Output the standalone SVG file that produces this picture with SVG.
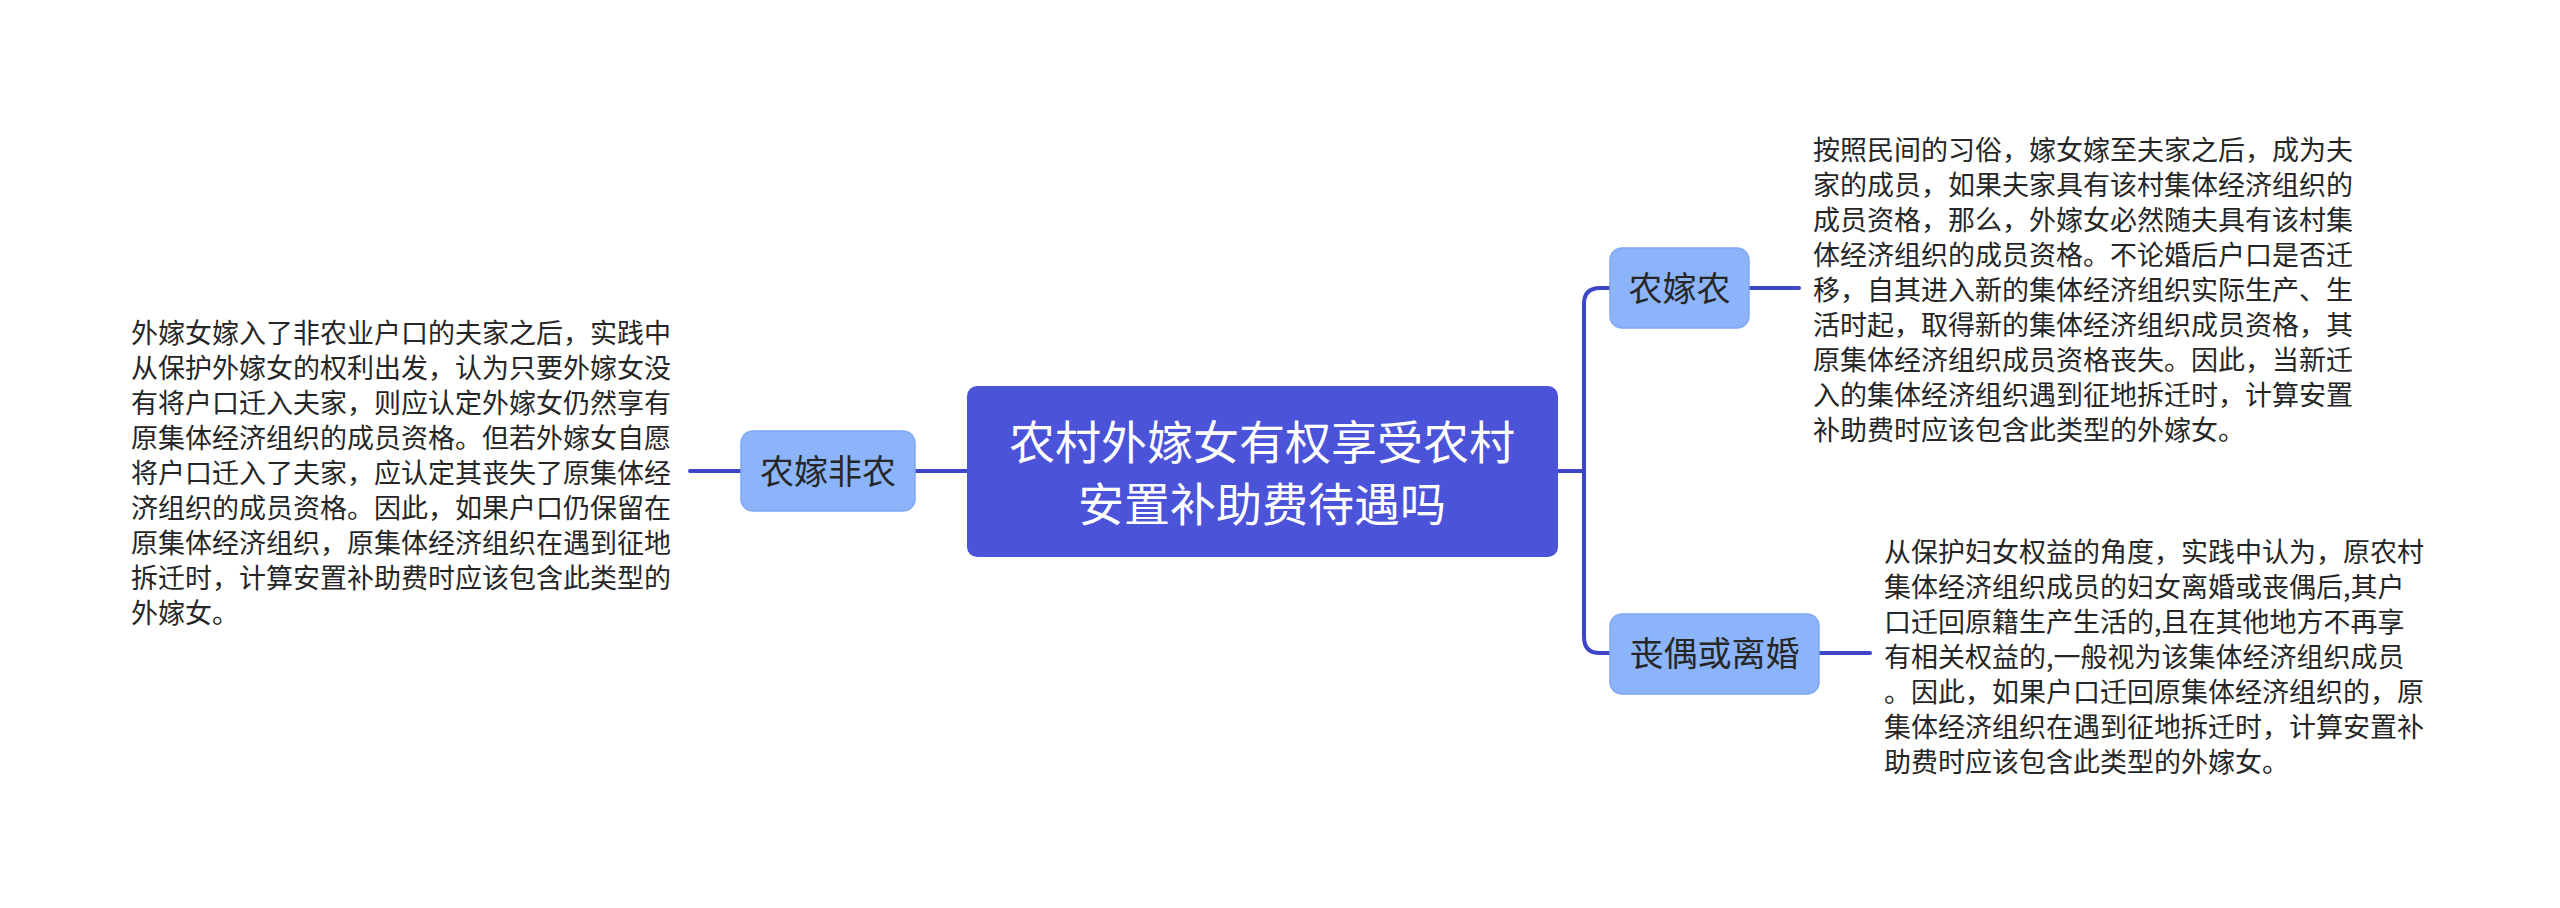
<svg xmlns="http://www.w3.org/2000/svg" width="2560" height="908" viewBox="0 0 2560 908">
<style>
.root{fill:#4b53d8;}
.child{fill:#8cb4fb;stroke:#7fa8f3;stroke-width:1.5;}
.title{font-family:"Noto Sans CJK SC","Noto Sans",sans-serif;font-size:46px;fill:#ffffff;text-anchor:middle;}
.label{font-family:"Noto Sans CJK SC","Noto Sans",sans-serif;font-size:34px;fill:#262626;text-anchor:middle;}
.body{font-family:"Noto Sans CJK SC","Noto Sans",sans-serif;font-size:27px;fill:#262626;}
.conn{fill:none;stroke:#3d46c8;stroke-width:4;stroke-linecap:round;stroke-linejoin:round;}
</style>
<rect width="2560" height="908" fill="#ffffff"/>
<g id="connectors">
<path class="conn" d="M967 471 L915 471"/>
<path class="conn" d="M741 471 L690 471"/>
<path class="conn" d="M1558 471 L1584 471"/>
<path class="conn" d="M1610 288 L1600 288 Q1584 288 1584 304 L1584 637 Q1584 653 1600 653 L1610 653"/>
<path class="conn" d="M1749 288 L1799 288"/>
<path class="conn" d="M1819 653 L1870 653"/>
</g>
<g id="root">
<rect class="root" x="967" y="386" width="591" height="171" rx="10"/>
<text class="title" x="1262" y="459">农村外嫁女有权享受农村</text>
<text class="title" x="1262" y="521">安置补助费待遇吗</text>
</g>
<g id="node-nongjiafeinong">
<rect class="child" x="741" y="431" width="174" height="80" rx="12"/>
<text class="label" x="828" y="484">农嫁非农</text>
</g>
<g id="text-left">
<text class="body" x="131" y="343">外嫁女嫁入了非农业户口的夫家之后，实践中</text>
<text class="body" x="131" y="378">从保护外嫁女的权利出发，认为只要外嫁女没</text>
<text class="body" x="131" y="413">有将户口迁入夫家，则应认定外嫁女仍然享有</text>
<text class="body" x="131" y="448">原集体经济组织的成员资格。但若外嫁女自愿</text>
<text class="body" x="131" y="483">将户口迁入了夫家，应认定其丧失了原集体经</text>
<text class="body" x="131" y="518">济组织的成员资格。因此，如果户口仍保留在</text>
<text class="body" x="131" y="553">原集体经济组织，原集体经济组织在遇到征地</text>
<text class="body" x="131" y="588">拆迁时，计算安置补助费时应该包含此类型的</text>
<text class="body" x="131" y="623">外嫁女。</text>
</g>
<g id="node-nongjianong">
<rect class="child" x="1610" y="248" width="139" height="80" rx="12"/>
<text class="label" x="1679.5" y="301">农嫁农</text>
</g>
<g id="text-right-1">
<text class="body" x="1813" y="160">按照民间的习俗，嫁女嫁至夫家之后，成为夫</text>
<text class="body" x="1813" y="195">家的成员，如果夫家具有该村集体经济组织的</text>
<text class="body" x="1813" y="230">成员资格，那么，外嫁女必然随夫具有该村集</text>
<text class="body" x="1813" y="265">体经济组织的成员资格。不论婚后户口是否迁</text>
<text class="body" x="1813" y="300">移，自其进入新的集体经济组织实际生产、生</text>
<text class="body" x="1813" y="335">活时起，取得新的集体经济组织成员资格，其</text>
<text class="body" x="1813" y="370">原集体经济组织成员资格丧失。因此，当新迁</text>
<text class="body" x="1813" y="405">入的集体经济组织遇到征地拆迁时，计算安置</text>
<text class="body" x="1813" y="440">补助费时应该包含此类型的外嫁女。</text>
</g>
<g id="node-sangou">
<rect class="child" x="1610" y="614" width="209" height="80" rx="12"/>
<text class="label" x="1714.5" y="666">丧偶或离婚</text>
</g>
<g id="text-right-2">
<text class="body" x="1884" y="562">从保护妇女权益的角度，实践中认为，原农村</text>
<text class="body" x="1884" y="597">集体经济组织成员的妇女离婚或丧偶后,其户</text>
<text class="body" x="1884" y="632">口迁回原籍生产生活的,且在其他地方不再享</text>
<text class="body" x="1884" y="667">有相关权益的,一般视为该集体经济组织成员</text>
<text class="body" x="1884" y="702">。因此，如果户口迁回原集体经济组织的，原</text>
<text class="body" x="1884" y="737">集体经济组织在遇到征地拆迁时，计算安置补</text>
<text class="body" x="1884" y="772">助费时应该包含此类型的外嫁女。</text>
</g>
</svg>
